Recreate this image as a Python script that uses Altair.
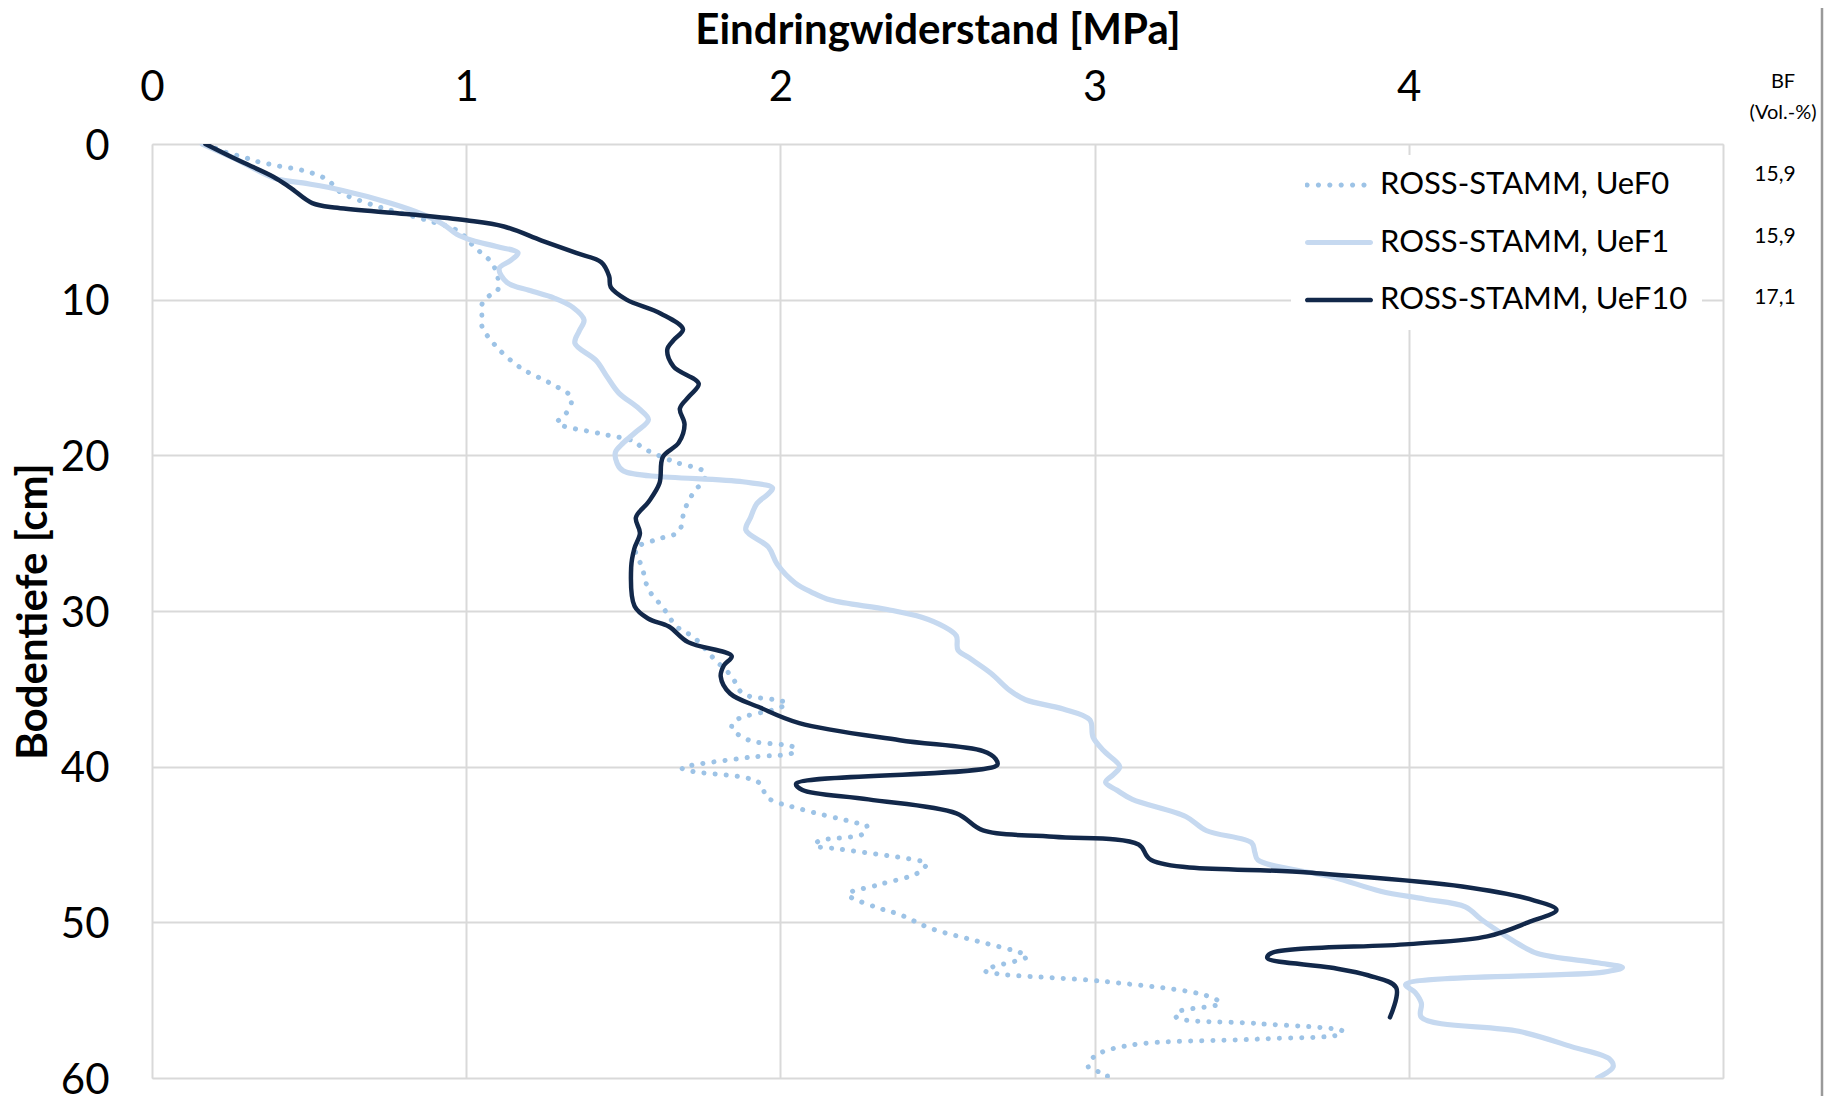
import altair as alt
import pandas as pd

# ---------------- data ----------------
series_names = ["ROSS-STAMM, UeF0", "ROSS-STAMM, UeF1", "ROSS-STAMM, UeF10"]
bf_values = ["15,9", "15,9", "17,1"]
bf_header = ["BF", "(Vol.-%)"]
x_ticks = [0, 1, 2, 3, 4, 5]
y_ticks = [0, 10, 20, 30, 40, 50, 60]

# UeF0 (dotted)
depth_uef0 = [0, 0.5, 0.9, 1.1, 1.4, 1.7, 2.1, 2.5, 3.1, 3.9, 4.3, 4.9, 5.6, 6.6, 7.6, 8.5,
              9.4, 9.8, 10.3, 11.1, 11.7, 13.0, 14.4, 15.4, 16.3, 17.4, 17.9, 18.6, 19.1,
              19.5, 20.4, 21.1, 21.7, 22.2, 23.5, 24.9, 25.4, 26.0, 27.2, 28.6, 29.8, 31.0,
              31.7, 33.1, 34.2, 35.3, 35.7, 35.9, 36.2, 37.0, 37.5, 38.3, 38.6, 38.8, 39.1,
              39.4, 40.1, 40.3, 41.0, 42.0, 42.7, 43.6, 43.8, 44.3, 44.8, 45.1, 45.2, 46.0,
              46.2, 46.8, 47.6, 48.2, 49.0, 49.5, 50.4, 51.2, 52.0, 52.2, 52.9, 53.1, 53.3,
              53.8, 54.7, 55.2, 55.8, 56.1, 56.5, 57.0, 57.2, 57.5, 57.9, 58.6, 59.3, 59.8, 60.0]
res_uef0 = [0.17, 0.23, 0.30, 0.33, 0.40, 0.48, 0.54, 0.57, 0.60, 0.70, 0.767, 0.875, 0.975,
            1.025, 1.08, 1.10, 1.10, 1.07, 1.05, 1.05, 1.05, 1.095, 1.175, 1.27, 1.335, 1.315,
            1.29, 1.426, 1.535, 1.56, 1.66, 1.76, 1.755, 1.73, 1.695, 1.676, 1.607, 1.54, 1.56,
            1.58, 1.627, 1.67, 1.725, 1.79, 1.845, 1.88, 1.98, 2.02, 2.0, 1.86, 1.845, 1.90,
            2.01, 2.047, 2.04, 1.90, 1.687, 1.72, 1.93, 1.96, 2.06, 2.24, 2.275, 2.265, 2.12,
            2.11, 2.15, 2.43, 2.465, 2.44, 2.31, 2.215, 2.30, 2.38, 2.48, 2.625, 2.77, 2.786,
            2.67, 2.65, 2.69, 3.03, 3.355, 3.40, 3.26, 3.26, 3.52, 3.79, 3.78, 3.52, 3.11, 3.0,
            2.98, 3.04, 3.04]

# UeF1 (light solid)
depth_uef1 = [0, 1.0, 2.2, 2.5, 2.95, 3.8, 4.5, 5.2, 5.8, 6.2, 6.6, 7.0, 7.5, 8.0, 8.9, 9.4,
              9.9, 10.5, 11.3, 12.0, 12.8, 13.9, 15.0, 16.0, 17.0, 17.7, 18.5, 19.2, 19.8,
              20.5, 21.0, 21.7, 22.1, 22.5, 23.1, 24.0, 24.8, 25.9, 27.0, 28.2, 28.8, 29.3,
              29.9, 30.4, 31.0, 31.6, 32.5, 33.0, 34.0, 35.1, 35.7, 36.3, 37.0, 38.1, 39.0,
              40.0, 40.5, 41.0, 41.5, 42.1, 43.2, 44.1, 44.9, 45.5, 46.0, 47.1, 48.0, 48.5,
              49.0, 49.8, 50.5, 51.4, 52.0, 52.6, 52.9, 53.2, 54.0, 54.5, 55.2, 56.1, 57.0,
              58.0, 58.8, 59.3, 60.0]
res_uef1 = [0.16, 0.27, 0.39, 0.48, 0.60, 0.76, 0.86, 0.93, 0.97, 1.02, 1.10, 1.165, 1.14,
            1.105, 1.13, 1.20, 1.28, 1.34, 1.375, 1.36, 1.346, 1.413, 1.45, 1.486, 1.55, 1.58,
            1.54, 1.50, 1.475, 1.48, 1.50, 1.88, 1.975, 1.96, 1.925, 1.905, 1.89, 1.962, 1.99,
            2.047, 2.10, 2.16, 2.34, 2.45, 2.52, 2.56, 2.565, 2.60, 2.67, 2.73, 2.78, 2.90,
            2.985, 2.995, 3.03, 3.08, 3.06, 3.035, 3.07, 3.12, 3.29, 3.355, 3.50, 3.51, 3.52,
            3.76, 3.91, 4.05, 4.18, 4.23, 4.28, 4.35, 4.41, 4.60, 4.68, 4.62, 3.99, 4.02, 4.04,
            4.04, 4.35, 4.52, 4.64, 4.65, 4.60]

# UeF10 (dark solid)
depth_uef10 = [0, 1.0, 2.1, 2.8, 3.8, 4.1, 4.5, 4.9, 5.3, 6.2, 7.0, 7.6, 8.5, 9.2, 10.0, 10.9,
               11.9, 12.6, 13.2, 14.3, 15.4, 16.2, 17.0, 18.0, 19.2, 20.1, 21.8, 23.0, 24.0,
               25.0, 26.0, 27.2, 29.7, 30.5, 31.0, 32.0, 32.9, 33.5, 34.2, 35.3, 36.2, 37.2,
               38.3, 39.0, 39.5, 39.9, 41.1, 41.5, 42.1, 43.0, 44.1, 44.5, 45.0, 46.0, 46.8,
               47.7, 48.6, 49.2, 50.0, 50.9, 51.4, 52.0, 52.3, 52.9, 53.4, 54.2, 56.1]
res_uef10 = [0.17, 0.27, 0.386, 0.44, 0.51, 0.59, 0.81, 1.0, 1.12, 1.24, 1.35, 1.43, 1.455,
             1.46, 1.51, 1.62, 1.69, 1.66, 1.64, 1.66, 1.74, 1.71, 1.68, 1.695, 1.676, 1.626,
             1.615, 1.58, 1.54, 1.553, 1.535, 1.525, 1.536, 1.58, 1.645, 1.706, 1.845, 1.82,
             1.81, 1.84, 1.935, 2.06, 2.38, 2.645, 2.685, 2.69, 2.05, 2.07, 2.28, 2.56, 2.645,
             2.87, 3.14, 3.18, 3.68, 4.17, 4.40, 4.47, 4.38, 4.25, 4.0, 3.56, 3.55, 3.75, 3.87,
             3.96, 3.94]

# ---------------- styles ----------------
FONT = "Lato"
COLORS = ["#9dc3e6", "#c6d9f0", "#12284a"]
DASHES = [[0.1, 11], None, None]
WIDTHS = [5, 5.2, 4.5]
GRID = "#d9d9d9"
PLOT_W, PLOT_H = 1571, 934


def dots_path(n=6, start=-0.94, step=0.335, r=0.076):
    parts = []
    for k in range(n):
        cx = start + k * step
        parts.append(f"M{cx - r:.4f},0a{r},{r} 0 1,0 {2 * r:.4f},0a{r},{r} 0 1,0 {-2 * r:.4f},0Z")
    return "".join(parts)


def bar_path(h=0.068):
    e = 1 - h
    return (f"M{-e:.4f},{-h}H{e:.4f}A{h},{h} 0 0 1 {e:.4f},{h}"
            f"H{-e:.4f}A{h},{h} 0 0 1 {-e:.4f},{-h}Z")


LEGEND_SHAPES = [dots_path(), bar_path(0.075), bar_path(0.068)]

rows = []
for name, ds, vs in zip(series_names,
                        [depth_uef0, depth_uef1, depth_uef10],
                        [res_uef0, res_uef1, res_uef10]):
    for d, v in zip(ds, vs):
        rows.append({"series": name, "depth": d, "res": v})
df = pd.DataFrame(rows)

x_enc = alt.X(
    "res:Q",
    scale=alt.Scale(domain=[0, 5], nice=False, zero=False),
    axis=alt.Axis(
        orient="top", values=x_ticks, format="d",
        labelExpr="datum.value == 5 ? '' : datum.label",
        labelFont=FONT, labelFontSize=42, labelColor="black",
        labelPadding=44, labelBaseline="alphabetic", labelFlush=False,
        labelOverlap=False, ticks=False, tickSize=0, domain=False,
        grid=True, gridColor=GRID, gridWidth=2,
        title="Eindringwiderstand [MPa]", titleFont=FONT, titleFontSize=42,
        titleFontWeight="bold", titleColor="black",
        titleX=PLOT_W / 2, titleY=-101, titleAlign="center",
        titleBaseline="alphabetic",
    ),
)
y_enc = alt.Y(
    "depth:Q",
    scale=alt.Scale(domain=[0, 60], reverse=True, nice=False, zero=False),
    axis=alt.Axis(
        orient="left", values=y_ticks, format="d",
        labelFont=FONT, labelFontSize=42, labelColor="black",
        labelPadding=43, labelAlign="right", labelBaseline="middle",
        labelOffset=2, labelFlush=False, labelOverlap=False,
        ticks=False, tickSize=0, domain=False,
        grid=True, gridColor=GRID, gridWidth=2,
        title="Bodentiefe [cm]", titleFont=FONT, titleFontSize=42,
        titleFontWeight="bold", titleColor="black", titleAngle=270,
        titleX=-106, titleY=PLOT_H / 2, titleAlign="center",
        titleBaseline="alphabetic",
    ),
)

layers = []
for i, (name, col, dash, w) in enumerate(zip(series_names, COLORS, DASHES, WIDTHS)):
    mark_kw = dict(color=col, strokeWidth=w, strokeCap="round", strokeJoin="round",
                   interpolate="catmull-rom", clip=True)
    if dash is not None:
        mark_kw["strokeDash"] = dash
    layer = alt.Chart(df[df["series"] == name]).mark_line(**mark_kw).encode(
        x=x_enc if i == 0 else alt.X("res:Q"),
        y=y_enc if i == 0 else alt.Y("depth:Q"),
        order=alt.Order("depth:Q"),
    )
    layers.append(layer)

# legend carrier: its symbols are drawn off-canvas, only the legend shows
legend = alt.Legend(
    title=None, orient="none", legendX=1139, legendY=11,
    fillColor="white", padding=14, symbolSize=4624, symbolStrokeWidth=0,
    clipHeight=32, rowPadding=25.5,
    labelFont=FONT, labelFontSize=31, labelColor="black", labelOffset=7,
    labelLimit=600,
)
legend_df = pd.DataFrame({"series": series_names})
legend_layer = alt.Chart(legend_df).mark_point(filled=True, opacity=1, strokeWidth=0).encode(
    x=alt.value(-5000), y=alt.value(-5000),
    color=alt.Color("series:N", scale=alt.Scale(domain=series_names, range=COLORS),
                    legend=legend),
    shape=alt.Shape("series:N", scale=alt.Scale(domain=series_names, range=LEGEND_SHAPES),
                    legend=legend),
)
layers.append(legend_layer)

# BF header and values (right of the plot)
BF_X = 1631
header_y = [-62, -31]
for txt, yy in zip(bf_header, header_y):
    layers.append(
        alt.Chart(pd.DataFrame({"t": [txt]})).mark_text(
            font=FONT, fontSize=20, color="black", align="center", baseline="middle"
        ).encode(x=alt.value(BF_X), y=alt.value(yy), text="t:N")
    )
BF_Y0, BF_STEP = 31, 61.5
for i, v in enumerate(bf_values):
    layers.append(
        alt.Chart(pd.DataFrame({"t": [v]})).mark_text(
            font=FONT, fontSize=21, color="black", align="center", baseline="middle"
        ).encode(x=alt.value(BF_X - 8), y=alt.value(BF_Y0 + i * BF_STEP), text="t:N")
    )

# outer frame line at right edge
layers.append(
    alt.Chart(pd.DataFrame({"a": [0]})).mark_rule(color="#9a9a9a", strokeWidth=2.5).encode(
        x=alt.value(1670), y=alt.value(-144), y2=alt.value(PLOT_H + 20)
    )
)

chart = alt.layer(*layers).properties(
    width=PLOT_W, height=PLOT_H,
    autosize=alt.AutoSizeParams(type="none"),
    padding={"left": 144, "top": 136, "right": 102, "bottom": 18},
).configure_view(stroke=None).configure(background="white")

chart.save("out.html", embed_options={"renderer": "svg", "actions": False})
